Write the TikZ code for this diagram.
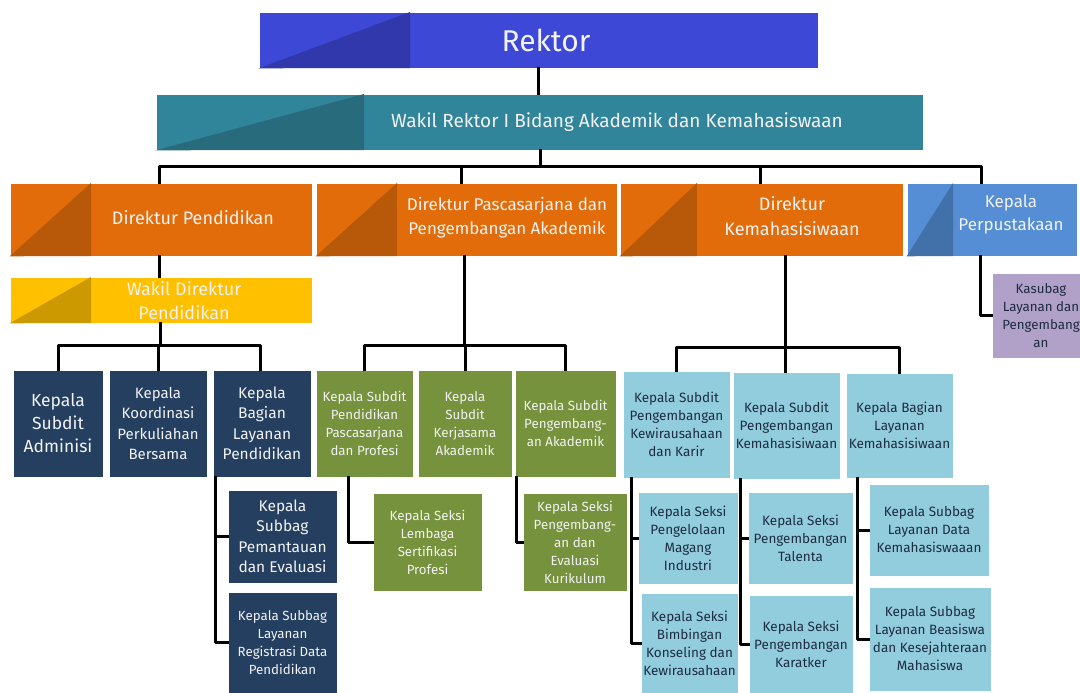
\documentclass[tikz,border=0pt]{standalone}
\usepackage{fontspec}
\setmainfont{Fira Sans}
\definecolor{rekC}{RGB}{61,73,214}
\definecolor{rekD}{RGB}{48,56,172}
\definecolor{wakC}{RGB}{49,133,155}
\definecolor{wakD}{RGB}{40,107,125}
\definecolor{oraC}{RGB}{227,108,10}
\definecolor{oraD}{RGB}{184,89,9}
\definecolor{bluC}{RGB}{85,142,213}
\definecolor{bluD}{RGB}{66,113,170}
\definecolor{yelC}{RGB}{255,192,0}
\definecolor{yelD}{RGB}{204,154,0}
\definecolor{navC}{RGB}{36,63,96}
\definecolor{grnC}{RGB}{118,146,60}
\definecolor{lbC}{RGB}{146,205,221}
\definecolor{purC}{RGB}{177,160,199}
\definecolor{txL}{RGB}{242,242,242}
\definecolor{txD}{RGB}{30,44,66}
\begin{document}
\begin{tikzpicture}[x=1pt,y=-1pt,
  box/.style={rectangle, draw=white, line width=0.6pt, inner sep=0pt, align=center},
  navy/.style={box, fill=navC, text=txL},
  green/.style={box, fill=grnC, text=txL, font=\fontsize{13.3}{18}\selectfont},
  lblue/.style={box, fill=lbC, text=txD, font=\fontsize{13.5}{18}\selectfont},
  purp/.style={box, fill=purC, text=txD, font=\fontsize{13.3}{18}\selectfont},
  ttl/.style={text=txL, align=center, inner sep=0pt},
  conn/.style={draw=black, line width=3pt, line join=round, line cap=rect}
]
\useasboundingbox (0,0) rectangle (1080,693);

% ---- top level boxes ----
\node[box, fill=rekC, minimum width=559pt, minimum height=56pt] (rektor) at (538.5,40) {};
\fill[rekD] (rektor.south west) -- (410,12) -- (410,68) -- cycle;
\node[ttl, font=\fontsize{30}{34}\selectfont] (trektor) at (546,40) {Rektor};

\node[box, fill=wakC, minimum width=767pt, minimum height=56pt] (wakil) at (539.5,122) {};
\fill[wakD] (wakil.south west) -- (364,94) -- (364,150) -- cycle;
\node[ttl, font=\fontsize{19}{22}\selectfont] (twakil) at (617,122) {Wakil Rektor I Bidang Akademik dan Kemahasiswaan};

\node[box, fill=oraC, minimum width=302pt, minimum height=73pt] (dirdik) at (161,219.5) {};
\fill[oraD] (dirdik.south west) -- (91,183) -- (91,256) -- cycle;
\node[ttl, font=\fontsize{18}{24}\selectfont] (tdirdik) at (193,218) {Direktur Pendidikan};

\node[box, fill=oraC, minimum width=301pt, minimum height=73pt] (dirpas) at (466.5,219.5) {};
\fill[oraD] (dirpas.south west) -- (397,183) -- (397,256) -- cycle;
\node[ttl, font=\fontsize{17}{24}\selectfont] (tdirpas) at (507,218) {Direktur Pascasarjana dan\\Pengembangan Akademik};

\node[box, fill=oraC, minimum width=283pt, minimum height=73pt] (dirmhs) at (761.5,219.5) {};
\fill[oraD] (dirmhs.south west) -- (697,183) -- (697,256) -- cycle;
\node[ttl, font=\fontsize{18}{25}\selectfont] (tdirmhs) at (792,216.5) {Direktur\\Kemahasisiwaan};

\node[box, fill=bluC, minimum width=170pt, minimum height=73pt] (perp) at (992,219.5) {};
\fill[bluD] (perp.south west) -- (953,183) -- (953,256) -- cycle;
\node[ttl, font=\fontsize{17}{23}\selectfont] (tperp) at (1011,214.5) {Kepala\\Perpustakaan};

\node[box, fill=yelC, minimum width=302pt, minimum height=46pt] (wadir) at (161,300) {};
\fill[yelD] (wadir.south west) -- (91,277) -- (91,323) -- cycle;
\node[ttl, font=\fontsize{18}{24}\selectfont] (twadir) at (184,301) {Wakil Direktur\\Pendidikan};

% ---- navy ----
\node[navy, minimum width=90pt, minimum height=107pt, font=\fontsize{17.5}{23}\selectfont] (n1) at (58,423.5) {Kepala\\Subdit\\Adminisi};
\node[navy, minimum width=98pt, minimum height=107pt, font=\fontsize{15}{20.5}\selectfont] (n2) at (158,423.5) {Kepala\\Koordinasi\\Perkuliahan\\Bersama};
\node[navy, minimum width=98pt, minimum height=107pt, font=\fontsize{15.5}{20.5}\selectfont] (n3) at (262,423.5) {Kepala\\Bagian\\Layanan\\Pendidikan};
\node[navy, minimum width=109pt, minimum height=93pt, font=\fontsize{15.5}{20.5}\selectfont] (n4) at (282.5,536.5) {Kepala\\Subbag\\Pemantauan\\dan Evaluasi};
\node[navy, minimum width=109pt, minimum height=101pt, font=\fontsize{13.3}{18}\selectfont] (n5) at (282.5,642.5) {Kepala Subbag\\Layanan\\Registrasi Data\\Pendidikan};

% ---- green ----
\node[green, minimum width=97pt, minimum height=107pt] (g1) at (364.5,423.5) {Kepala Subdit\\Pendidikan\\Pascasarjana\\dan Profesi};
\node[green, minimum width=94pt, minimum height=107pt] (g2) at (465,423.5) {Kepala\\Subdit\\Kerjasama\\Akademik};
\node[green, minimum width=101pt, minimum height=107pt] (g3) at (565.5,423.5) {Kepala Subdit\\Pengembang-\\an Akademik};
\node[green, minimum width=109pt, minimum height=98pt] (g4) at (427.5,542) {Kepala Seksi\\Lembaga\\Sertifikasi\\Profesi};
\node[green, minimum width=104pt, minimum height=98pt] (g5) at (575,542) {Kepala Seksi\\Pengembang-\\an dan\\Evaluasi\\Kurikulum};

% ---- light blue ----
\node[lblue, minimum width=107pt, minimum height=107pt] (l1) at (676.5,424.5) {Kepala Subdit\\Pengembangan\\Kewirausahaan\\dan Karir};
\node[lblue, minimum width=107pt, minimum height=107pt] (l2) at (786.5,425.5) {Kepala Subdit\\Pengembangan\\Kemahasisiwaan};
\node[lblue, minimum width=107pt, minimum height=105pt] (l3) at (899.5,425.5) {Kepala Bagian\\Layanan\\Kemahasisiwaan};
\node[lblue, minimum width=100pt, minimum height=92pt] (l4) at (688,538) {Kepala Seksi\\Pengelolaan\\Magang\\Industri};
\node[lblue, minimum width=97pt, minimum height=100pt] (l5) at (689.5,643) {Kepala Seksi\\Bimbingan\\Konseling dan\\Kewirausahaan};
\node[lblue, minimum width=105pt, minimum height=92pt] (l6) at (800.5,538) {Kepala Seksi\\Pengembangan\\Talenta};
\node[lblue, minimum width=104pt, minimum height=98pt] (l7) at (801,644) {Kepala Seksi\\Pengembangan\\Karatker};
\node[lblue, minimum width=120pt, minimum height=92pt] (l8) at (929,530) {Kepala Subbag\\Layanan Data\\Kemahasiswaaan};
\node[lblue, minimum width=122pt, minimum height=104pt] (l9) at (930,639) {Kepala Subbag\\Layanan Beasiswa\\dan Kesejahteraan\\Mahasiswa};

% ---- purple ----
\node[purp, minimum width=98pt, minimum height=85pt] (k1) at (1041,315.5) {Kasubag\\Layanan dan\\Pengembang\\an};

% ---- connectors ----
\draw[conn] (rektor.south) -- (rektor.south |- wakil.north);
\coordinate (b1) at (540,166);
\draw[conn] (wakil.south -| b1) -- (b1);
\draw[conn] ([xshift=-2pt]dirdik.north) |- (b1) -| ([xshift=-11pt]perp.north);
\draw[conn] ([xshift=-5pt]dirpas.north) -- ([xshift=-5pt]dirpas.north |- b1);
\draw[conn] ([xshift=-1pt]dirmhs.north) -- ([xshift=-1pt]dirmhs.north |- b1);

\draw[conn] ([xshift=-2pt]dirdik.south) -- ([xshift=-2pt]wadir.north);
\coordinate (b2) at (160,345);
\draw[conn] (wadir.south -| b2) -- (b2);
\draw[conn] (n1.north) |- (b2) -| ([xshift=-2pt]n3.north);
\draw[conn] (n2.north) -- (n2.north |- b2);
\coordinate (c0) at ([xshift=3pt]n3.south west);
\draw[conn] (c0) |- (n5.west);
\draw[conn] (n4.west) -- (n4.west -| c0);

\coordinate (b3) at (464,345);
\draw[conn] ([xshift=-2.5pt]dirpas.south) -- (b3);
\draw[conn] (g1.north) |- (b3) -| (g3.north);
\draw[conn] (g2.north) -- (g2.north |- b3);
\draw[conn] ([xshift=33pt]g1.south west) |- (g4.west);
\draw[conn] ([xshift=2pt]g3.south west) |- (g5.west);

\coordinate (b4) at (785,347);
\draw[conn] ([xshift=23.5pt]dirmhs.south) -- (b4);
\draw[conn] (l1.north) |- (b4) -| (l3.north);
\draw[conn] ([xshift=-1.5pt]l2.north) -- ([xshift=-1.5pt]l2.north |- b4);
\coordinate (c1) at ([xshift=9pt]l1.south west);
\draw[conn] (c1) |- (l5.west);
\draw[conn] (l4.west) -- (l4.west -| c1);
\coordinate (c2) at ([xshift=8pt]l2.south west);
\draw[conn] (c2) |- (l7.west);
\draw[conn] (l6.west) -- (l6.west -| c2);
\coordinate (c3) at ([xshift=12pt]l3.south west);
\draw[conn] (c3) |- (l9.west);
\draw[conn] (l8.west) -- (l8.west -| c3);

\draw[conn] ([xshift=-12pt]perp.south) |- (k1.west);
\end{tikzpicture}
\end{document}
